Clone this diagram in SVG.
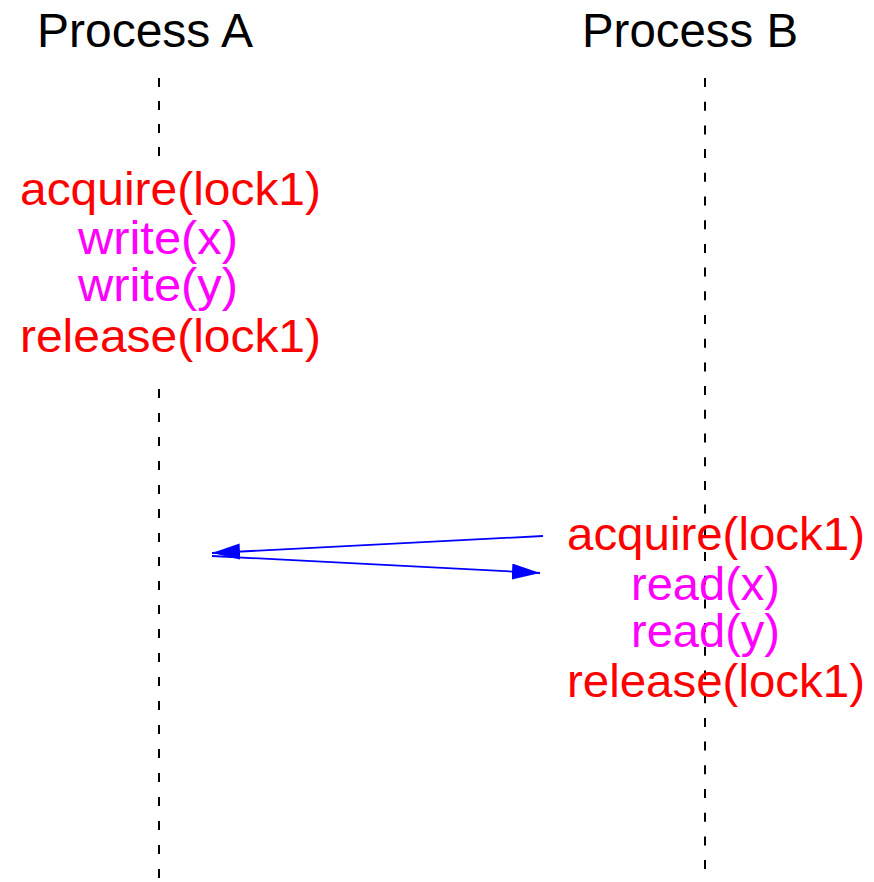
<svg xmlns="http://www.w3.org/2000/svg" width="874" height="882" viewBox="0 0 874 882">
<style>
.t{font-family:"Liberation Sans",Arial,sans-serif;font-size:46px}
.h{font-family:"Liberation Sans",Arial,sans-serif;font-size:48px;fill:#000}
.lk{fill:#ff0000}
.op{fill:#ff00ff}
.life{stroke:#000;stroke-width:2;fill:none}
.msg{stroke:#0000ff;stroke-width:1.8;fill:none}
</style>
<defs>
<marker id="ah" markerUnits="userSpaceOnUse" markerWidth="30" markerHeight="18" refX="28" refY="8" orient="auto">
<path d="M0,0 L28,8 L0,16 Z" fill="#0000ff"/>
</marker>
</defs>
<rect width="874" height="882" fill="#fff"/>
<g id="lifelines">
<line class="life" x1="159" y1="78" x2="159" y2="160" stroke-dasharray="9 14"/>
<line class="life" x1="159" y1="389" x2="159" y2="882" stroke-dasharray="9 15"/>
<line class="life" x1="705" y1="78" x2="705" y2="870" stroke-dasharray="9 14.7"/>
</g>
<g id="processA">
<text class="h" x="37" y="47" textLength="216" lengthAdjust="spacingAndGlyphs">Process A</text>
</g>
<g id="processB">
<text class="h" x="582" y="47" textLength="216" lengthAdjust="spacingAndGlyphs">Process B</text>
</g>
<g id="blockA">
<text class="t lk" x="20" y="205" textLength="301" lengthAdjust="spacingAndGlyphs">acquire(lock1)</text>
<text class="t op" x="78" y="254" textLength="160" lengthAdjust="spacingAndGlyphs">write(x)</text>
<text class="t op" x="78" y="301" textLength="160" lengthAdjust="spacingAndGlyphs">write(y)</text>
<text class="t lk" x="20" y="352" textLength="301" lengthAdjust="spacingAndGlyphs">release(lock1)</text>
</g>
<g id="blockB">
<text class="t lk" x="567" y="550" textLength="298" lengthAdjust="spacingAndGlyphs">acquire(lock1)</text>
<text class="t op" x="631" y="600" textLength="149" lengthAdjust="spacingAndGlyphs">read(x)</text>
<text class="t op" x="631" y="647" textLength="149" lengthAdjust="spacingAndGlyphs">read(y)</text>
<text class="t lk" x="567" y="697" textLength="298" lengthAdjust="spacingAndGlyphs">release(lock1)</text>
</g>
<g id="connectors">
<line class="msg" x1="543" y1="536" x2="212" y2="553" marker-end="url(#ah)"/>
<line class="msg" x1="212" y1="556" x2="540" y2="573" marker-end="url(#ah)"/>
</g>
</svg>
